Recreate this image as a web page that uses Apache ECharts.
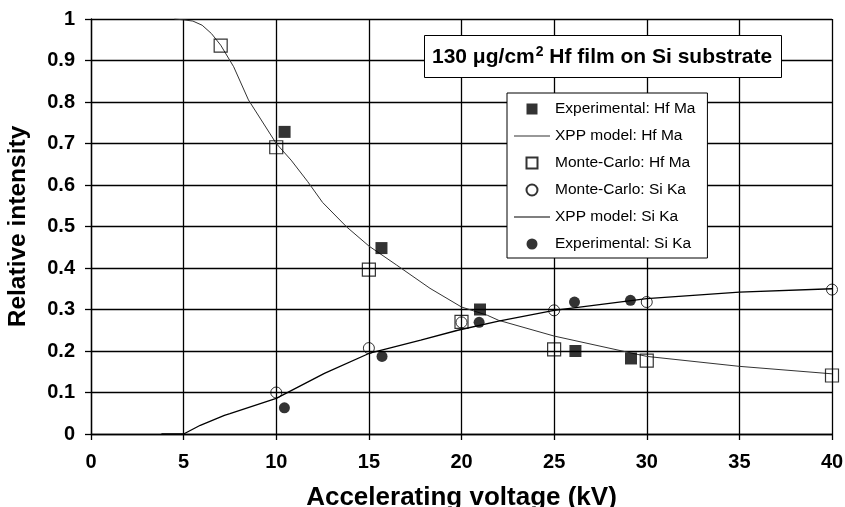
<!DOCTYPE html>
<html>
<head>
<meta charset="utf-8">
<script src="https://cdn.jsdelivr.net/npm/echarts@6/dist/echarts.min.js"></script>
<style>
  html, body { margin: 0; padding: 0; background: #fff; }
  #chart { width: 845px; height: 507px; }
</style>
</head>
<body>
<div id="chart"></div>
<script>
// Axis ranges and ticks
const xMin = 0, xMax = 40, xStep = 5;
const yMin = 0, yMax = 1, yStep = 0.1;

// Measured points: [accelerating voltage (kV), relative intensity]
const expHfMa = [[10.45, 0.728], [15.68, 0.448], [21.0, 0.300], [26.15, 0.200], [29.15, 0.182]];
const mcHfMa = [[7, 0.936], [10, 0.691], [15, 0.396], [20, 0.270], [25, 0.204], [30, 0.177], [40, 0.141]];
const mcSiKa = [[10, 0.100], [15, 0.207], [20, 0.269], [25, 0.298], [30, 0.318], [40, 0.348]];
const expSiKa = [[10.44, 0.063], [15.71, 0.187], [20.95, 0.269], [26.1, 0.318], [29.12, 0.322]];

// XPP model curves
const xppHfMa = [
  [4.5, 1.0], [5, 0.998], [5.5, 0.995], [6, 0.985], [6.5, 0.965], [7, 0.937],
  [7.7, 0.885], [8.5, 0.805], [10, 0.700], [10.8, 0.660], [11.7, 0.608],
  [12.5, 0.558], [13.8, 0.499], [15, 0.453], [16.5, 0.407], [18.3, 0.351],
  [20, 0.306], [21.4, 0.286], [22, 0.274], [25, 0.236], [30, 0.187],
  [35, 0.163], [40, 0.145]
];
const xppSiKa = [
  [3.8, 0], [5, 0], [5.9, 0.021], [7.2, 0.045], [7.5, 0.049], [10, 0.086],
  [12.6, 0.146], [15, 0.194], [17.8, 0.226], [19.8, 0.250], [22, 0.272],
  [25, 0.298], [30, 0.326], [35, 0.342], [40, 0.350]
];

const names = [
  'Experimental: Hf Ma', 'XPP model: Hf Ma', 'Monte-Carlo: Hf Ma',
  'Monte-Carlo: Si Ka', 'XPP model: Si Ka', 'Experimental: Si Ka'
];

const FONT = '"Liberation Sans", Arial, Helvetica, sans-serif';

// Legend icons: a square for the square markers, a thin bar for model lines
const ICON_SQUARE = 'path://M0,0 H10 V10 H0 Z';
const ICON_LINE = 'path://M0,0 H40 V1 H0 Z';

const chart = echarts.init(document.getElementById('chart'), null, { renderer: 'canvas' });

chart.setOption({
  backgroundColor: '#fff',
  animation: false,
  title: {
    left: 424,
    top: 35,
    padding: [10, 10, 10, 8],
    backgroundColor: '#fff',
    borderColor: '#000',
    borderWidth: 1,
    text: '{a|130 μg/cm}{s|2}{a| Hf film on Si substrate}',
    textStyle: {
      rich: {
        a: { fontFamily: FONT, fontWeight: 'bold', fontSize: 21, color: '#000', lineHeight: 24 },
        s: { fontFamily: FONT, fontWeight: 'bold', fontSize: 14, color: '#000', verticalAlign: 'top', lineHeight: 14, padding: [0, 0, 0, 1] }
      }
    }
  },
  legend: {
    orient: 'vertical',
    left: 507,
    top: 93,
    padding: [8, 12, 6, 7],
    itemGap: 11,
    itemWidth: 36,
    itemHeight: 11,
    symbolKeepAspect: true,
    backgroundColor: '#fff',
    borderColor: '#000',
    borderWidth: 1,
    borderRadius: 0,
    textStyle: { fontFamily: FONT, fontSize: 15.5, color: '#000' },
    data: [
      { name: names[0], icon: ICON_SQUARE },
      { name: names[1], icon: ICON_LINE },
      { name: names[2], icon: ICON_SQUARE },
      { name: names[3], icon: 'circle' },
      { name: names[4], icon: ICON_LINE },
      { name: names[5], icon: 'circle' }
    ]
  },
  grid: { left: 91, right: 13, top: 19, bottom: 73, outerBoundsMode: 'none', containLabel: false },
  xAxis: {
    type: 'value',
    min: xMin, max: xMax, interval: xStep,
    name: 'Accelerating voltage (kV)',
    nameLocation: 'middle',
    nameGap: 51,
    nameTextStyle: { fontFamily: FONT, fontWeight: 'bold', fontSize: 26, color: '#000' },
    axisLine: { show: true, lineStyle: { color: '#000', width: 1.3 } },
    axisTick: { show: true, length: 6, lineStyle: { color: '#000', width: 1.3 } },
    axisLabel: { margin: 18, fontFamily: FONT, fontWeight: 'bold', fontSize: 20, color: '#000' },
    splitLine: { show: true, lineStyle: { color: '#000', width: 1.3 } }
  },
  yAxis: {
    type: 'value',
    min: yMin, max: yMax, interval: yStep,
    name: 'Relative intensity',
    nameLocation: 'middle',
    nameGap: 60,
    nameTextStyle: { fontFamily: FONT, fontWeight: 'bold', fontSize: 24.5, color: '#000' },
    axisLine: { show: true, lineStyle: { color: '#000', width: 1.3 } },
    axisTick: { show: true, length: 6, lineStyle: { color: '#000', width: 1.3 } },
    axisLabel: { margin: 16, fontFamily: FONT, fontWeight: 'bold', fontSize: 20, color: '#000' },
    splitLine: { show: true, lineStyle: { color: '#000', width: 1.3 } }
  },
  series: [
    {
      name: names[0], type: 'scatter', data: expHfMa, z: 5,
      symbol: 'rect', symbolSize: 12,
      itemStyle: { color: '#000', borderColor: '#000', borderWidth: 0 }
    },
    {
      name: names[1], type: 'line', data: xppHfMa, z: 3,
      symbol: 'none', showSymbol: false,
      lineStyle: { color: '#333', width: 1 },
      itemStyle: { color: '#333' }
    },
    {
      name: names[2], type: 'scatter', data: mcHfMa, z: 4,
      symbol: 'rect', symbolSize: 13,
      itemStyle: { color: 'rgba(255,255,255,0)', borderColor: '#000', borderWidth: 1.2 }
    },
    {
      name: names[3], type: 'scatter', data: mcSiKa, z: 4,
      symbol: 'circle', symbolSize: 11,
      itemStyle: { color: 'rgba(255,255,255,0)', borderColor: '#000', borderWidth: 1 }
    },
    {
      name: names[4], type: 'line', data: xppSiKa, z: 3,
      symbol: 'none', showSymbol: false,
      lineStyle: { color: '#000', width: 1.3 },
      itemStyle: { color: '#000' }
    },
    {
      name: names[5], type: 'scatter', data: expSiKa, z: 5,
      symbol: 'circle', symbolSize: 11,
      itemStyle: { color: '#000', borderColor: '#000', borderWidth: 0 }
    }
  ]
});
</script>
</body>
</html>
